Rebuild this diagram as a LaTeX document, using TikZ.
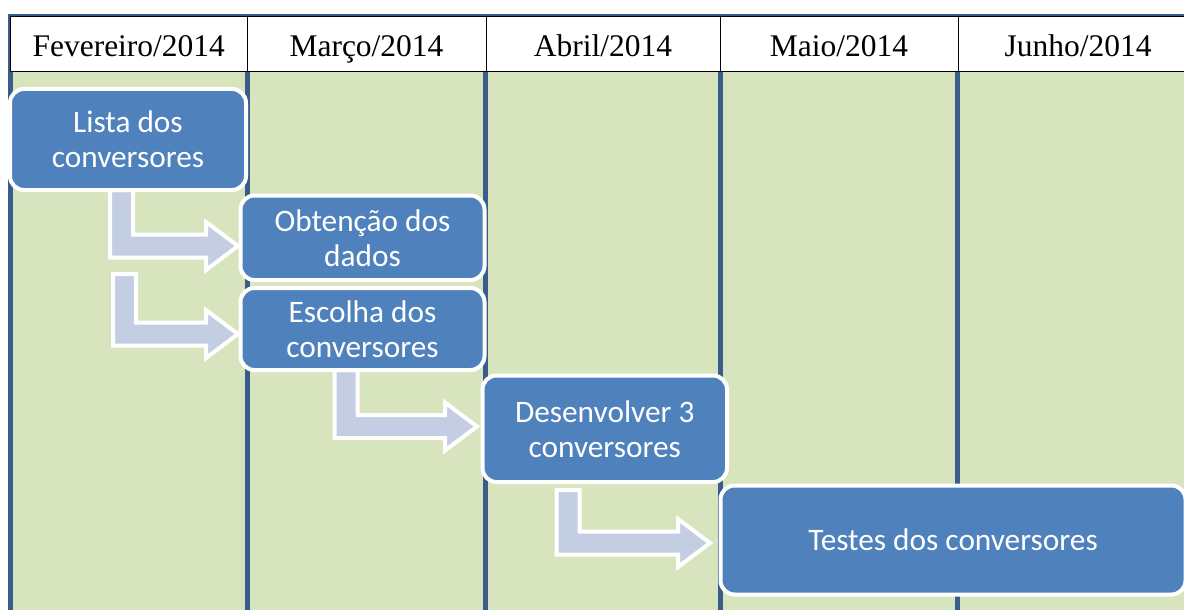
\documentclass[tikz,border=0pt]{standalone}
\usepackage{fontspec}
\setmainfont{Liberation Serif}
\newfontfamily\calfont{Carlito}
\usetikzlibrary{calc}
\pgfdeclarelayer{bg}
\pgfdeclarelayer{mid}
\pgfsetlayers{bg,mid,main}
\definecolor{grn}{RGB}{215,228,189}
\definecolor{colline}{RGB}{56,93,138}
\definecolor{boxblue}{RGB}{79,129,189}
\definecolor{arrfill}{RGB}{196,206,226}
\tikzset{
  hcell/.style={draw=black, line width=0.9, fill=white, minimum height=55, inner sep=0,
    text height=29, text depth=3, font=\fontsize{31.5}{35}\selectfont},
  taskbox/.style={draw=white, line width=4, fill=boxblue, rounded corners=14, inner sep=0,
    text=white, align=center, font=\calfont\fontsize{31.3}{35}\selectfont},
  arrowshape/.style={draw=white, line width=4, fill=arrfill, line join=miter},
  colsep/.style={draw=colline, line width=5},
}
\newcommand\bentarrow[2]{%
  \path[arrowshape] let \p1=(#1), \p2=(#2) in
    (\x1-11.5pt,\y1) -- (\x1+11.5pt,\y1) -- (\x1+11.5pt,\y2+11.5pt) --
    (\x2-32pt,\y2+11.5pt) -- (\x2-32pt,\y2+24pt) -- (\x2,\y2) --
    (\x2-32pt,\y2-24pt) -- (\x2-32pt,\y2-11.5pt) -- (\x1-11.5pt,\y2-11.5pt) -- cycle;}
\begin{document}
\begin{tikzpicture}[x=1pt,y=-1pt]
\useasboundingbox (0,0) rectangle (1184,610);
\begin{pgfonlayer}{bg}
  \fill[grn] (10.5,72) rectangle (1190,615);
  \coordinate (l0t) at (10.5,14); \coordinate (l0b) at (10.5,615);
  \coordinate (l1t) at (247.5,72); \coordinate (l1b) at (247.5,615);
  \coordinate (l2t) at (485,72); \coordinate (l2b) at (485,615);
  \coordinate (l3t) at (720.5,72); \coordinate (l3b) at (720.5,615);
  \coordinate (l4t) at (957.5,72); \coordinate (l4b) at (957.5,615);
  \draw[colsep] (l0t) -- (l0b);
  \draw[colsep] (l1t) -- (l1b);
  \draw[colsep] (l2t) -- (l2b);
  \draw[colsep] (l3t) -- (l3b);
  \draw[colsep] (l4t) -- (l4b);
  \coordinate (tl) at (8,15.2); \coordinate (tr) at (1190,15.2);
  \draw[colline, line width=2.6] (tl) -- (tr);
  \node[hcell, minimum width=236.5] (h1) at (128.75,44) {Fevereiro/2014};
  \node[hcell, minimum width=239] (h2) at (366.5,44) {Março/2014};
  \node[hcell, minimum width=234] (h3) at (603,44) {Abril/2014};
  \node[hcell, minimum width=238] (h4) at (839,44) {Maio/2014};
  \node[hcell, minimum width=240] (h5) at (1078,44) {Junho/2014};
\end{pgfonlayer}
\node[taskbox, minimum width=236, minimum height=101] (b1) at (128,139.5) {Lista dos\\conversores};
\node[taskbox, minimum width=244, minimum height=84.5] (b2) at (362.5,237.75) {Obtenção dos\\dados};
\node[taskbox, minimum width=244, minimum height=82] (b3) at (362.5,329) {Escolha dos\\conversores};
\node[taskbox, minimum width=244.5, minimum height=106.5] (b4) at (604.75,428.75) {Desenvolver 3\\conversores};
\node[taskbox, minimum width=465, minimum height=109] (b5) at (953,540) {Testes dos conversores};
\coordinate (a1s) at (121.5,190); \coordinate (a1t) at (238,246);
\coordinate (a2s) at (124.5,274); \coordinate (a2t) at (238,334);
\coordinate (a3s) at (346,370); \coordinate (a3t) at (477,426.5);
\coordinate (a4s) at (568,490); \coordinate (a4t) at (710,543);
\begin{pgfonlayer}{mid}
  \bentarrow{a1s}{a1t}
  \bentarrow{a2s}{a2t}
  \bentarrow{a3s}{a3t}
  \bentarrow{a4s}{a4t}
\end{pgfonlayer}
\end{tikzpicture}
\end{document}
